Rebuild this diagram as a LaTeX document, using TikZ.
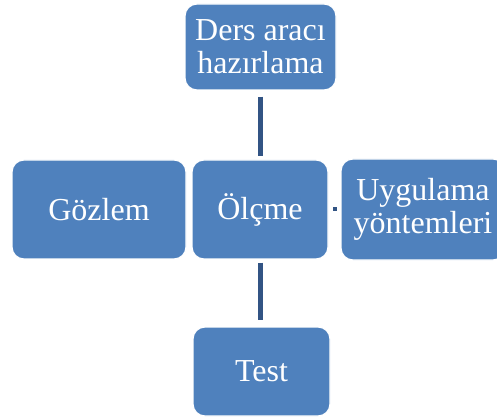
\documentclass[tikz,border=0pt]{standalone}
\usepackage{fontspec}
\setmainfont{Liberation Serif}
\usetikzlibrary{calc}
\definecolor{boxblue}{RGB}{79,129,189}
\definecolor{lineblue}{RGB}{50,84,132}
\begin{document}
\begin{tikzpicture}[x=1pt,y=-1pt,
  box/.style={draw=white,line width=1.2pt,fill=boxblue,rounded corners=12pt,
    text=white,font=\fontsize{32}{33}\selectfont,align=center,inner sep=0pt},
  link/.style={draw=lineblue,line width=4.5pt}]
\useasboundingbox (0,0) rectangle (497,419);
\clip (0,0) rectangle (497,419);
\node[box,minimum width=151pt,minimum height=86pt] (top) at (260.5,47) {Ders aracı\\hazırlama};
\node[box,minimum width=174pt,minimum height=99pt] (goz) at (99,209.5) {Gözlem};
\node[box,minimum width=136pt,minimum height=99pt] (olc) at (260,209.5) {Ölçme};
\node[box,minimum width=164pt,minimum height=101pt] (uyg) at (423,209.5) {Uygulama\\yöntemleri};
\node[box,minimum width=137pt,minimum height=89pt] (test) at (261.5,371.5) {Test};
\coordinate (t1) at ([yshift=-6pt]top.south);
\coordinate (t2) at ([yshift=3pt]olc.north);
\draw[link] (t1) -- (t2 -| t1);
\coordinate (b1) at ([yshift=-3pt]olc.south);
\coordinate (b2) at ([yshift=6pt]test.north);
\draw[link] (b1 -| t1) -- (b2 -| t1);
\coordinate (dot) at ($(olc.east)!0.5!(uyg.west)$);
\fill[lineblue] ($(dot)+(-2,-2)$) rectangle ($(dot)+(2,2)$);
\end{tikzpicture}
\end{document}
